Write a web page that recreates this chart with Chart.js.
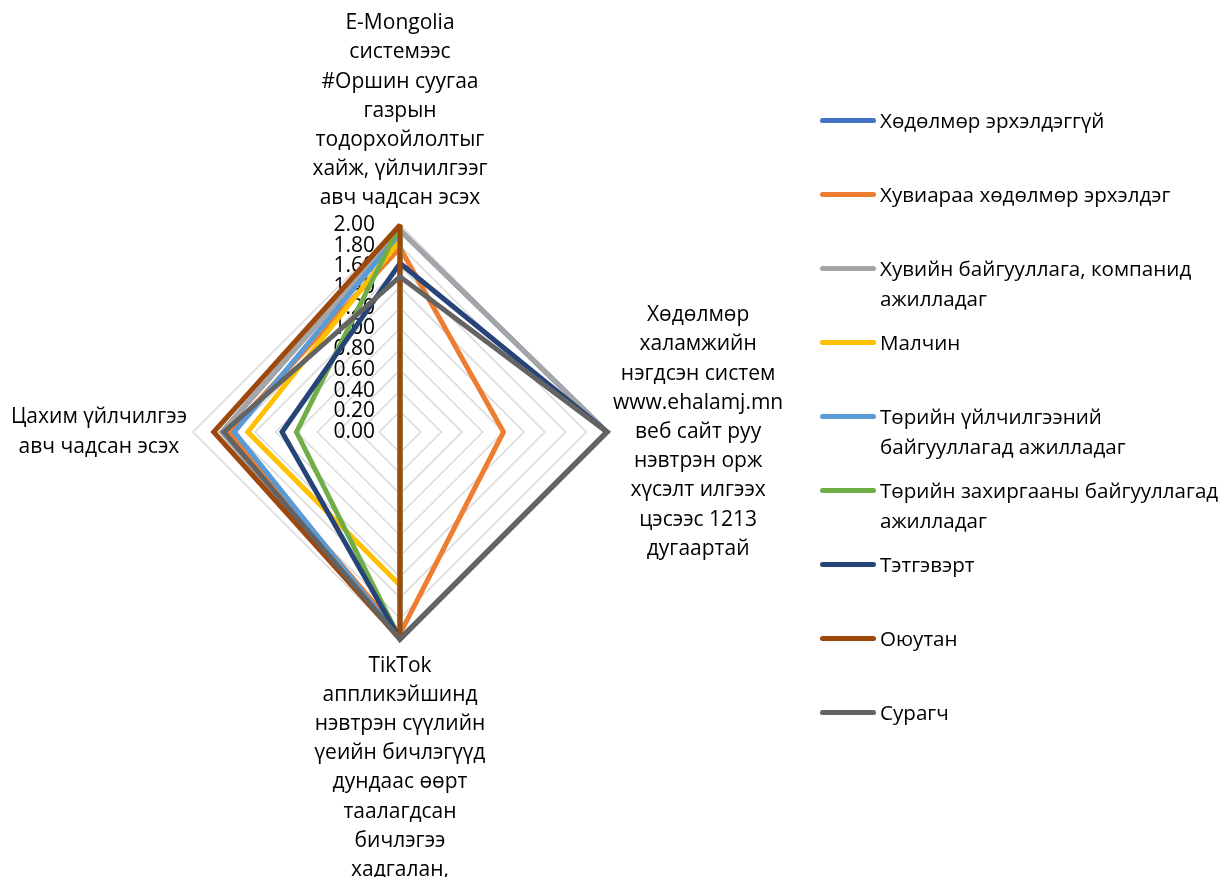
<!DOCTYPE html>
<html>
<head>
<meta charset="utf-8">
<script src="https://cdn.jsdelivr.net/npm/chart.js@4.4.1/dist/chart.umd.min.js"></script>
<style>
  html, body { margin: 0; padding: 0; background: #fff; }
  #wrap { position: relative; width: 1224px; height: 877px; overflow: hidden; }
  #radar { position: absolute; left: 0; top: 0; }
  #legend { position: absolute; left: 820px; top: 0; width: 404px; height: 877px; font-family: 'Open Sans', sans-serif; font-size: 20.6px; color: #000; }
  .item { position: absolute; left: 0; display: flex; align-items: flex-start; }
  .swatch { flex: none; width: 56px; height: 5px; border-radius: 3px; margin-top: 12px; }
  .text { white-space: pre; line-height: 29.2px; margin-left: 4px; }
</style>
</head>
<body>
<div id="wrap">
  <canvas id="radar" width="1224" height="877"></canvas>
  <div id="legend"></div>
</div>
<script>
// axis labels, one array of lines per spoke (top, right, bottom, left)
const axisLabels = [
    ['E-Mongolia', 'системээс', '#Оршин суугаа', 'газрын', 'тодорхойлолтыг', 'хайж, үйлчилгээг', 'авч чадсан эсэх'],
    ['Хөдөлмөр', 'халамжийн', 'нэгдсэн систем', 'www.ehalamj.mn', 'веб сайт руу', 'нэвтрэн орж', 'хүсэлт илгээх', 'цэсээс 1213', 'дугаартай'],
    ['TikTok', 'аппликэйшинд', 'нэвтрэн сүүлийн', 'үеийн бичлэгүүд', 'дундаас өөрт', 'таалагдсан', 'бичлэгээ', 'хадгалан,'],
    ['Цахим үйлчилгээ', 'авч чадсан эсэх'],
];

const seriesNames = [
    'Хөдөлмөр эрхэлдэггүй',
    'Хувиараа хөдөлмөр эрхэлдэг',
    'Хувийн байгууллага, компанид\nажилладаг',
    'Малчин',
    'Төрийн үйлчилгээний\nбайгууллагад ажилладаг',
    'Төрийн захиргааны байгууллагад\nажилладаг',
    'Тэтгэвэрт',
    'Оюутан',
    'Сурагч',
];

const unemployed = [1.95, 2.0, 2.0, 1.72];
const selfEmployed = [1.78, 1.0, 1.95, 1.65];
const privateSector = [1.95, 2.0, 2.0, 1.72];
const herder = [1.85, 0, 1.48, 1.47];
const publicService = [1.92, 0, 2.0, 1.6];
const publicAdmin = [2.0, 0, 2.0, 1.0];
const retired = [1.63, 2.0, 2.0, 1.14];
const student = [2.0, 0, 2.0, 1.8];
const pupil = [1.5, 2.0, 2.0, 1.7];

const seriesValues = [unemployed, selfEmployed, privateSector, herder, publicService, publicAdmin, retired, student, pupil];
const seriesColors = ['#4472c4', '#ed7d31', '#a5a5a5', '#ffc000', '#5b9bd5', '#70ad47', '#264478', '#9e480e', '#636363'];

const tickMin = 0;
const tickMax = 2;
const tickStep = 0.2;

const FONT = "21px 'Open Sans', sans-serif";
const LINE_H = 29.2;

// tick numbers left of the top spoke, and the wrapped spoke labels
const radarText = {
    id: 'radarText',
    beforeDatasetsDraw(chart) {
        const { ctx } = chart;
        const scale = chart.scales.r;
        ctx.save();
        ctx.font = FONT;
        ctx.fillStyle = '#000';
        ctx.textAlign = 'right';
        ctx.textBaseline = 'middle';
        scale.ticks.forEach((tick) => {
            const p = scale.getPointPositionForValue(0, tick.value);
            ctx.fillText(tick.value.toFixed(2), p.x - 25, p.y);
        });
        ctx.restore();
        // keep sharp corners but clip the long spikes on acute turns
        ctx.miterLimit = 2;
    },
    afterDraw(chart) {
        const { ctx } = chart;
        const scale = chart.scales.r;
        ctx.save();
        ctx.font = FONT;
        ctx.fillStyle = '#000';
        ctx.textAlign = 'center';
        ctx.textBaseline = 'middle';
        axisLabels.forEach((lines, i) => {
            const gap = i % 2 === 0 ? 12 : 6;
            const p = scale.getPointPosition(i, scale.drawingArea + gap);
            const w = Math.max(...lines.map((t) => ctx.measureText(t).width));
            const h = lines.length * LINE_H;
            let x = p.x;
            let y0 = p.y - h / 2;
            if (i === 0) y0 = p.y - h;
            if (i === 2) y0 = p.y;
            if (i === 1) x = p.x + w / 2;
            if (i === 3) x = p.x - w / 2;
            lines.forEach((t, k) => ctx.fillText(t, x, y0 + LINE_H * (k + 0.5)));
        });
        ctx.restore();
    },
};

new Chart(document.getElementById('radar'), {
    type: 'radar',
    data: {
        labels: axisLabels.map((l) => l.join(' ')),
        datasets: seriesNames.map((name, i) => ({
            label: name,
            data: seriesValues[i],
            borderColor: seriesColors[i],
            backgroundColor: seriesColors[i],
            borderWidth: 5,
            fill: false,
            order: seriesNames.length - i,
        })),
    },
    options: {
        responsive: false,
        animation: false,
        layout: {
            padding: { left: 193, right: 617, top: 225, bottom: 238 },
        },
        elements: {
            point: { radius: 0, hoverRadius: 0 },
            line: { tension: 0 },
        },
        scales: {
            r: {
                min: tickMin,
                max: tickMax,
                ticks: { display: false, stepSize: tickStep },
                pointLabels: { display: false },
                angleLines: { display: false },
                grid: { color: '#d9d9d9', lineWidth: 1.5 },
            },
        },
        plugins: {
            legend: { display: false },
            tooltip: { enabled: false },
        },
    },
    plugins: [radarText],
});

const legend = document.getElementById('legend');
seriesNames.forEach((name, i) => {
    const item = document.createElement('div');
    item.className = 'item';
    item.style.top = (121 - LINE_H / 2 + 74 * i) + 'px';
    item.innerHTML = `<div class="swatch" style="background:${seriesColors[i]}"></div><div class="text"></div>`;
    item.querySelector('.text').textContent = name;
    legend.appendChild(item);
});
</script>
</body>
</html>
